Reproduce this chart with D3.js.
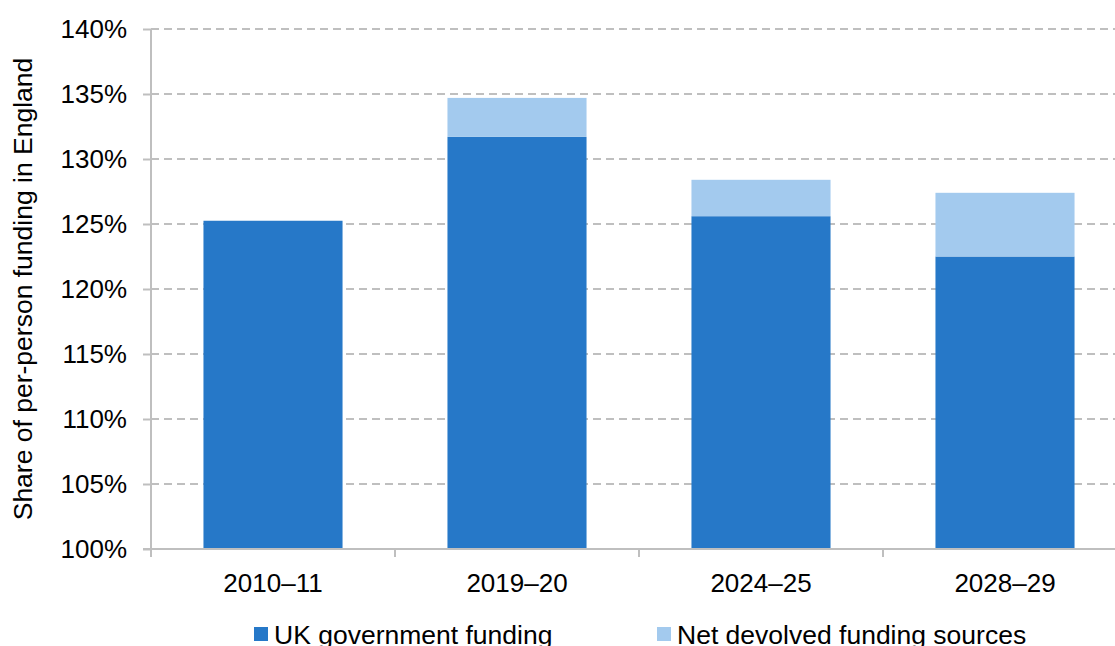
<!DOCTYPE html>
<html><head><meta charset="utf-8">
<script src="https://cdn.jsdelivr.net/npm/d3@7"></script>
<style>body{margin:0;background:#fff}svg{display:block;font-family:"Liberation Sans",Arial,sans-serif}</style>
</head><body><svg id="c" width="1115" height="646"></svg>
<script>
const categories = ["2010–11","2019–20","2024–25","2028–29"];
const ukFunding = [125.25, 131.7, 125.6, 122.5];
const devolvedFunding = [0, 3.0, 2.8, 4.9];
const seriesNames = ["UK government funding","Net devolved funding sources"];
const yTicks = [100,105,110,115,120,125,130,135,140];
const colors = ["#2678C8","#A3CAEE"];

const FS = 26;
const svg = d3.select("#c");
const x = d3.scaleBand().domain(categories).range([151,1127]).paddingInner(0.43).paddingOuter(0.215);
const y = d3.scaleLinear().domain([100,140]).range([549,29]);

// gridlines
svg.append("g").selectAll("line").data(yTicks.filter(d=>d>100)).join("line")
  .attr("x1",151).attr("x2",1127).attr("y1",d=>y(d)).attr("y2",d=>y(d))
  .attr("stroke","#BFBFBF").attr("stroke-width",2).attr("stroke-dasharray","8,5");

const data = categories.map((c,i)=>({c, a:ukFunding[i], b:devolvedFunding[i]}));
svg.append("g").selectAll("rect").data(data).join("rect")
  .attr("x",d=>x(d.c)).attr("width",x.bandwidth())
  .attr("y",d=>y(d.a)).attr("height",d=>y(100)-y(d.a)).attr("fill",colors[0]);
svg.append("g").selectAll("rect").data(data.filter(d=>d.b>0)).join("rect")
  .attr("x",d=>x(d.c)).attr("width",x.bandwidth())
  .attr("y",d=>y(d.a+d.b)).attr("height",d=>y(d.a)-y(d.a+d.b)).attr("fill",colors[1]);

// y axis
const ya = svg.append("g").attr("transform","translate(151,0)")
  .call(d3.axisLeft(y).tickValues(yTicks).tickFormat(d=>d+"%").tickSize(8).tickPadding(16));
ya.select(".domain").attr("stroke","#BFBFBF").attr("stroke-width",2).attr("d","M0,29V549");
ya.selectAll(".tick line").attr("stroke","#BFBFBF").attr("stroke-width",2);
ya.selectAll("text").attr("font-size",FS).attr("fill","#000").attr("font-family","Liberation Sans, Arial, sans-serif");

// x axis
const xa = svg.append("g").attr("transform","translate(0,549)");
xa.append("line").attr("x1",143).attr("x2",1127).attr("y1",0).attr("y2",0).attr("stroke","#BFBFBF").attr("stroke-width",2);
const bounds = categories.map((c,i)=>x(c)-x.step()*x.paddingInner()/2).concat([1127]);
bounds[0]=151;
xa.selectAll("line.tk").data(bounds).join("line").attr("class","tk")
  .attr("x1",d=>d).attr("x2",d=>d).attr("y1",0).attr("y2",8).attr("stroke","#BFBFBF").attr("stroke-width",2);
xa.selectAll("text").data(categories).join("text")
  .attr("x",d=>x(d)+x.bandwidth()/2).attr("y",43).attr("text-anchor","middle")
  .attr("font-size",FS).attr("fill","#000").text(d=>d);

// y title
svg.append("text").attr("transform","translate(32,289) rotate(-90)").attr("text-anchor","middle")
  .attr("font-size",26.5).attr("fill","#000").text("Share of per-person funding in England");

// legend
const lx = [254,657];
const lg = svg.append("g").selectAll("g").data(seriesNames).join("g")
  .attr("transform",(d,i)=>`translate(${lx[i]},627)`);
lg.append("rect").attr("width",14).attr("height",14).attr("fill",(d,i)=>colors[i]);
lg.append("text").attr("x",20).attr("y",17).attr("font-size",26.5).attr("fill","#000").text(d=>d);
</script></body></html>
